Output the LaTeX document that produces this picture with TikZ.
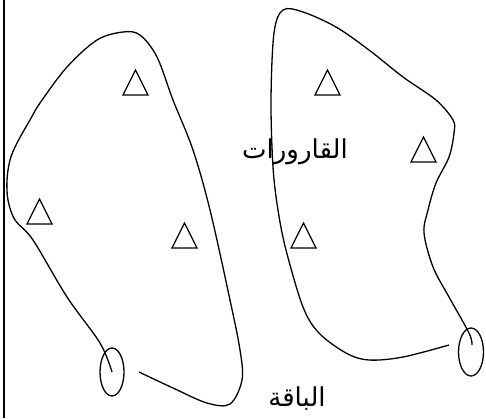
\documentclass[tikz,border=0pt]{standalone}
\usepackage{fontspec}
\newfontfamily\arabicfont[Script=Arabic]{DejaVu Sans}
\TeXXeTstate=1
\begin{document}
\begin{tikzpicture}[x=1pt,y=-1pt,
  outline/.style={line width=1.3pt, line join=round},
  tri/.style={line width=1.3pt, line join=miter},
  lbl/.style={font=\arabicfont\fontsize{26}{30}\selectfont, inner sep=0pt}]
\useasboundingbox (0,0) rectangle (486,418);
% left border
\draw[line width=2pt] (4,0) -- (4,418);
% left loop
\draw[outline] plot[smooth, tension=0.55] coordinates {
 (112,372) (100,343) (67,297) (33,240) (15,220) (8,200) (7,180) (10,160) (17,143) (30,120) (40,103) (67,67) (97,40) (123,32) (140,35) (157,57) (173,100) (193,150) (210,210) (230,300) (240,350) (242,380) (230,404) (207,403) (173,388) (139,372)};
\draw[outline] (112,372) ellipse [x radius=12, y radius=24];
% right loop
\draw[outline] plot[smooth, tension=0.55] coordinates {
 (472,345) (469,333) (449,297) (433,267) (424,233) (428,210) (436,183) (449,157) (454,133) (453,120) (436,100) (403,77) (369,50) (336,27) (303,12) (283,10) (274,33) (271,100) (273,167) (278,210) (286,250) (303,307) (319,333) (346,353) (369,360) (403,357) (449,345)};
\draw[outline] (471,352) ellipse [x radius=12.5, y radius=24];
% triangles
\draw[tri] (123,95) -- (135.5,70) -- (148,95) -- cycle;
\draw[tri] (27,224) -- (39.5,199) -- (52,224) -- cycle;
\draw[tri] (172,248) -- (184.5,223) -- (197,248) -- cycle;
\draw[tri] (315,95) -- (327.5,70) -- (340,95) -- cycle;
\draw[tri] (411,162) -- (423.5,137) -- (436,162) -- cycle;
\draw[tri] (291,248) -- (303.5,223) -- (316,248) -- cycle;
% labels
\node[lbl] (bottles) at (295,152) {\beginR القارورات\endR};
\node[lbl] (bouquet) at (297,399) {\beginR الباقة\endR};
\end{tikzpicture}
\end{document}
